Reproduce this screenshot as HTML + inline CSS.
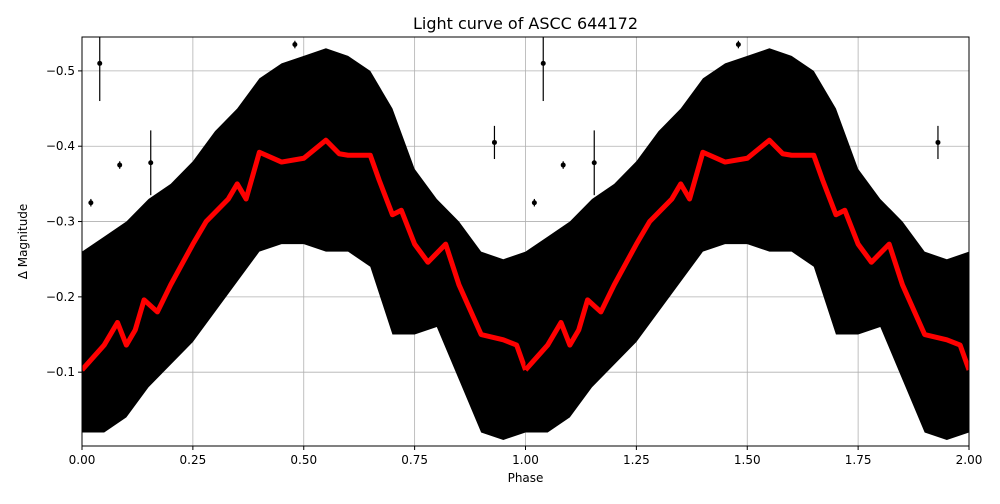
<!DOCTYPE html>
<html><head><meta charset="utf-8"><style>
body{margin:0;background:#fff;font-family:"DejaVu Sans","Liberation Sans",sans-serif}
</style></head><body>
<svg id="chart" width="1000" height="500" xmlns="http://www.w3.org/2000/svg" font-family="DejaVu Sans, Liberation Sans, sans-serif"></svg>
<script>
const phaseBins=[0,.05,.1,.15,.2,.25,.3,.35,.4,.45,.5,.55,.6,.65,.7,.75,.8,.85,.9,.95,1];
const cloudUpper=[-.26,-.28,-.30,-.33,-.35,-.38,-.42,-.45,-.49,-.51,-.52,-.53,-.52,-.50,-.45,-.37,-.33,-.30,-.26,-.25,-.26];
const cloudLower=[-.02,-.02,-.04,-.08,-.11,-.14,-.18,-.22,-.26,-.27,-.27,-.26,-.26,-.24,-.15,-.15,-.16,-.09,-.02,-.01,-.02];
const curvePhase=[0,.05,.08,.1,.12,.14,.17,.2,.25,.28,.33,.35,.37,.4,.45,.5,.55,.58,.6,.65,.67,.7,.72,.75,.78,.82,.85,.9,.95,.98,1];
const curveMag=[-.103,-.136,-.166,-.136,-.156,-.196,-.18,-.216,-.27,-.30,-.33,-.35,-.33,-.392,-.379,-.384,-.408,-.39,-.388,-.388,-.355,-.309,-.315,-.27,-.246,-.27,-.216,-.15,-.143,-.136,-.103];
const outPhase=[.04,.155,.93,.085,.48,.02];
const outMag=[-.51,-.378,-.405,-.375,-.535,-.325];
const outErr=[.05,.043,.022,.005,.005,.005];
const xTicks=[0,.25,.5,.75,1,1.25,1.5,1.75,2];
const xTickLabels=["0.00","0.25","0.50","0.75","1.00","1.25","1.50","1.75","2.00"];
const yTicks=[-.5,-.4,-.3,-.2,-.1];
const yTickLabels=["−0.5","−0.4","−0.3","−0.2","−0.1"];

const L=82,R=969,T=37,B=446,yMin=-.545,yMax=-.002;
const X=p=>L+(p/2)*(R-L);
const Y=m=>T+(m-yMin)/(yMax-yMin)*(B-T);
const svg=document.getElementById('chart');
const NS='http://www.w3.org/2000/svg';
function mk(tag,attrs,parent){const e=document.createElementNS(NS,tag);for(const k in attrs)e.setAttribute(k,attrs[k]);(parent||svg).appendChild(e);return e;}

const grid=mk('g',{});


xTicks.forEach(t=>mk('line',{x1:X(t),x2:X(t),y1:T,y2:B,stroke:'#b0b0b0','stroke-width':0.8},grid));
yTicks.forEach(t=>mk('line',{x1:L,x2:R,y1:Y(t),y2:Y(t),stroke:'#b0b0b0','stroke-width':0.8},grid));

const clip=mk('clipPath',{id:'pc'});mk('rect',{x:L,y:T,width:R-L,height:B-T},clip);
const data=mk('g',{'clip-path':'url(#pc)'});


for(let c=0;c<2;c++){
  let up=phaseBins.map((p,i)=>X(p+c)+','+Y(cloudUpper[i]));
  let lo=phaseBins.map((p,i)=>X(p+c)+','+Y(cloudLower[i])).reverse();
  const poly=mk('polygon',{points:up.concat(lo).join(' '),fill:'#000'},data);
  
  
  outPhase.forEach((p,i)=>{
    mk('line',{x1:X(p+c),x2:X(p+c),y1:Y(outMag[i]-outErr[i]),y2:Y(outMag[i]+outErr[i]),stroke:'#000','stroke-width':1.2},data);
    const d=mk('circle',{cx:X(p+c),cy:Y(outMag[i]),r:2.5,fill:'#000'},data);
    
    
  });
  const line=mk('polyline',{points:curvePhase.map((p,i)=>X(p+c)+','+Y(curveMag[i])).join(' '),fill:'none',stroke:'#ff0000','stroke-width':5,'stroke-linejoin':'round'},data);
  
  
}

const frame=mk('rect',{x:L,y:T,width:R-L,height:B-T,fill:'none',stroke:'#000','stroke-width':1});


xTicks.forEach((t,i)=>{
  mk('line',{x1:X(t),x2:X(t),y1:B,y2:B+4,stroke:'#000'});
  const tx=mk('text',{x:X(t),y:B+18,'font-size':12,'text-anchor':'middle'});tx.textContent=xTickLabels[i];
  
  
});
yTicks.forEach((t,i)=>{
  mk('line',{x1:L-4,x2:L,y1:Y(t),y2:Y(t),stroke:'#000'});
  const tx=mk('text',{x:L-7,y:Y(t)+4,'font-size':12,'text-anchor':'end'});tx.textContent=yTickLabels[i];
  
  
});
const ti=mk('text',{x:(L+R)/2,y:29,'font-size':16,'text-anchor':'middle'});ti.textContent='Light curve of ASCC 644172';


const xl=mk('text',{x:(L+R)/2,y:482,'font-size':12,'text-anchor':'middle'});xl.textContent='Phase';


const yl=mk('text',{x:27,y:(T+B)/2,'font-size':12,'text-anchor':'middle',transform:`rotate(-90 27 ${(T+B)/2})`});yl.textContent='Δ Magnitude';


</script>
</body></html>
